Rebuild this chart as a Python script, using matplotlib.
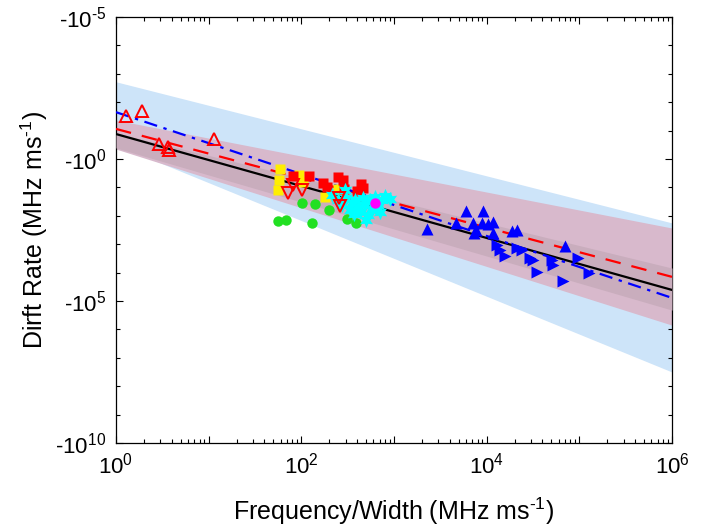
"""Drift rate vs frequency/width, log-log with negative drift axis."""
import matplotlib
matplotlib.use("Agg")
import matplotlib.pyplot as plt
import numpy as np
from matplotlib.ticker import FixedLocator, FuncFormatter, NullFormatter, LogLocator

plt.rcParams["font.family"] = ["Liberation Sans", "DejaVu Sans"]
plt.rcParams["mathtext.fontset"] = "custom"
plt.rcParams["mathtext.rm"] = "Liberation Sans"
plt.rcParams["mathtext.it"] = "Liberation Sans:italic"

# ---- data (x = frequency/width, y = |drift rate|) ----
red_up_x = [1.28, 1.91, 2.91, 3.64, 3.73, 11.4]
red_up_y = [0.031, 0.020, 0.30, 0.38, 0.48, 0.20]

yellow_x = [58.8, 57.3, 56, 94, 104, 180, 248]
yellow_y = [2.25, 5.5, 12.3, 3.6, 6.5, 21.9, 11.5]

red_sq_x = [81, 121, 171, 189, 248, 281, 288, 440, 462, 398]
red_sq_y = [4.0, 4.0, 7.1, 9.8, 4.3, 5.5, 11.5, 7.6, 10.5, 13.5]

red_down_x = [71.7, 81, 101, 255, 261]
red_down_y = [15.8, 8.3, 12.3, 23.4, 44.7]

green_x = [56, 68, 101, 130, 140, 199, 310, 388]
green_y = [151, 141, 35.5, 178, 38, 63, 129, 178]

cyan_x = [214, 248, 274, 303, 334, 351, 378, 408, 429, 462, 486, 523,
          550, 578, 622, 670, 740, 798, 903, 705, 498, 369, 295]
cyan_y = [18.6, 27.5, 41.7, 23.4, 63, 35.5, 27.5, 49, 74, 23.4, 41.7, 93,
          27.5, 63, 21.9, 41.7, 27.5, 20, 25.7, 74, 141, 87, 12.3]

magenta_x = [622]
magenta_y = [35.5]

blue_up_x = [2265, 4650, 5970, 9100, 7100, 8870, 7640, 10300, 11700, 7280,
             11700, 18700, 21200, 69800]
blue_up_y = [290, 178, 67, 67, 178, 178, 316, 195, 166, 407,
             407, 347, 316, 1150]

blue_right_x = [12900, 13900, 15700, 21200, 24000, 29200, 31500, 50500,
                51800, 34800, 96400, 126500, 66400]
blue_right_y = [1070, 1590, 2630, 1350, 1590, 3090, 3630, 3630,
                5370, 9550, 3090, 10200, 19900]

# fit lines and bands, given at x = 1 and x = 1e6
line_x = [1.0, 1e6]
fit_black = [10 ** -0.88, 10 ** 4.61]
fit_red = [10 ** -1.06, 10 ** 4.15]
fit_blue = [10 ** -1.65, 10 ** 4.89]

band_blue_lo = [10 ** -2.72, 10 ** 2.25]
band_blue_hi = [10 ** -0.50, 10 ** 7.50]
band_pink_lo = [10 ** -1.37, 10 ** 2.43]
band_pink_hi = [10 ** -0.35, 10 ** 5.85]
band_dark_lo = [10 ** -0.92, 10 ** 3.84]
band_dark_hi = [10 ** -0.39, 10 ** 5.32]

FS_TICK = 16
FS_LABEL = 18
HY = "\u2010"  # plain hyphen, mathtext would turn "-" into a long minus


def sup(n):
    s = str(n).replace("-", HY)
    return rf"$^{{\mathregular{{{s}}}}}$"


def neg_pow(v, pos):
    return "-10" + sup(int(round(np.log10(v))))


def pow10(v, pos):
    k = int(round(np.log10(v)))
    return "10" + sup(k) if k % 2 == 0 else ""


fig = plt.figure(figsize=(7.19, 5.32), dpi=100)
ax = fig.add_axes([0.1613, 0.1673, 0.7733, 0.8007])

ax.fill_between(line_x, band_blue_lo, band_blue_hi, color="#cde4f9", lw=0, zorder=1)
ax.fill_between(line_x, band_pink_lo, band_pink_hi, color="#d8b9cc", lw=0, zorder=2)
ax.fill_between(line_x, band_dark_lo, band_dark_hi, color="#c9adbd", lw=0, zorder=3)

ax.plot(line_x, fit_black, color="black", lw=1.6, zorder=4)
ax.plot(line_x, fit_red, color="red", lw=1.6, ls=(0, (7, 5)), zorder=4)
ax.plot(line_x, fit_blue, color="blue", lw=1.6, ls=(0, (6, 3, 1.5, 3)), zorder=4)

ax.plot(green_x, green_y, "o", color="#22e022", ms=7.5, mec="none", zorder=5)
ax.plot(yellow_x, yellow_y, "s", color="#ffee00", ms=7.5, mec="none", zorder=5)
ax.plot(red_sq_x, red_sq_y, "s", color="red", ms=7.5, mec="none", zorder=5)
ax.plot(cyan_x, cyan_y, marker=(6, 1, 0), ls="none", color="cyan", ms=11,
        mec="none", zorder=5)
ax.plot(magenta_x, magenta_y, "o", color="magenta", ms=7.5, mec="none", zorder=6)
ax.plot(red_down_x, red_down_y, "v", mfc="none", mec="red", mew=1.4, ms=9, ls="none", zorder=6)
ax.plot(red_up_x, red_up_y, "^", mfc="none", mec="red", mew=1.4, ms=9, ls="none", zorder=6)
ax.plot(blue_up_x, blue_up_y, "^", color="blue", ms=9, mec="none", ls="none", zorder=5)
ax.plot(blue_right_x, blue_right_y, ">", color="blue", ms=9, mec="none", ls="none", zorder=5)

ax.set_xscale("log")
ax.set_yscale("log")
ax.set_xlim(1, 1e6)
ax.set_ylim(1e10, 1e-5)

ax.xaxis.set_major_locator(FixedLocator([10.0 ** k for k in range(0, 7)]))
ax.xaxis.set_major_formatter(FuncFormatter(pow10))
ax.xaxis.set_minor_locator(LogLocator(base=10, subs=np.arange(2, 10), numticks=20))
ax.xaxis.set_minor_formatter(NullFormatter())

ax.yaxis.set_major_locator(FixedLocator([1e-5, 1e0, 1e5, 1e10]))
ax.yaxis.set_major_formatter(FuncFormatter(neg_pow))
ax.yaxis.set_minor_locator(FixedLocator([10.0 ** k for k in range(-5, 11)]))
ax.yaxis.set_minor_formatter(NullFormatter())

ax.tick_params(which="both", direction="in", top=True, right=True, labelsize=FS_TICK)
ax.tick_params(which="major", length=5, width=0.8, pad=7)
ax.tick_params(which="minor", length=3, width=0.8)
for s in ax.spines.values():
    s.set_linewidth(0.9)

ax.set_xlabel("Frequency/Width (MHz ms" + sup(-1) + ")", fontsize=FS_LABEL, labelpad=12)
ax.set_ylabel("Dirft Rate (MHz ms" + sup(-1) + ")", fontsize=FS_LABEL, labelpad=4)

fig.savefig("out.png", dpi=100)
